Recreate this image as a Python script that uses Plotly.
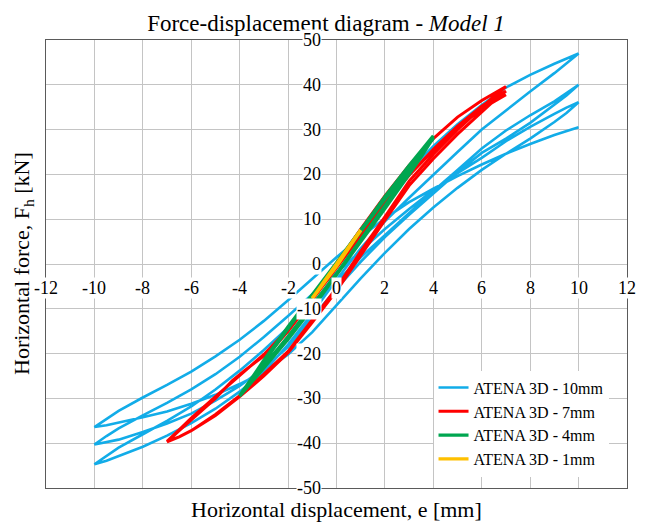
import plotly.graph_objects as go

# ---------------- data ----------------
# ATENA 3D - 10mm (blue): loading, then alternating unload / reload branches
b10_x = [0, 1, 2, 3, 4, 5, 6, 7, 8, 9, 10,
         9.5, 9, 8, 7, 6, 5, 4, 3, 2, 1, 0, -1, -2, -3, -4, -5, -6, -7, -8, -9, -9.5, -10,
         -9.5, -9, -8, -7, -6, -5, -4, -3, -2, -1, 0, 1, 2, 3, 4, 5, 6, 7, 8, 9, 9.5, 10,
         9.5, 9, 8, 7, 6, 5, 4, 3, 2, 1, 0, -1, -2, -3, -4, -5, -6, -7, -8, -9, -9.5, -10,
         -9.5, -9, -8, -7, -6, -5, -4, -3, -2, -1, 0, 1, 2, 3, 4, 5, 6, 7, 8, 9, 9.5, 10,
         9.5, 9, 8, 7, 6, 5, 4, 3, 2, 1, 0, -1, -2, -3, -4, -5, -6, -7, -8, -9, -9.5, -10,
         -9.5, -9, -8, -7, -6, -5, -4, -3, -2, -1, 0, 1, 2, 3, 4, 5, 6, 7, 8, 9, 10]
b10_y = [0, 7.5, 14.5, 20.8, 26.3, 31.2, 35.5, 39.4, 42.2, 44.7, 47,
         44.7, 42.6, 38.5, 34.2, 30, 25, 20, 14.8, 9.5, 3.5, -3.5, -11, -18, -24, -28.5, -32.3, -35.5, -38.3, -40.8, -42.9, -43.9, -44.7,
         -42.8, -41, -38, -35, -31.8, -28, -23.8, -19.2, -14.2, -9.2, -4, 1.5, 6.5, 11.5, 16.3, 21, 25.8, 29.8, 33.2, 36.3, 38.1, 40,
         37.6, 35.5, 31.5, 28, 24.8, 20.5, 15.8, 11, 6, 0.5, -5.5, -12, -18.5, -23.3, -27.2, -30.5, -33.4, -35.6, -37.5, -39.2, -39.8, -40.3,
         -38.4, -36.7, -33.8, -31, -28, -24.6, -20.7, -16.3, -11.6, -6.8, -2, 3, 7.8, 12.3, 16.5, 20.3, 23.7, 27.4, 30.6, 33.5, 34.9, 36.1,
         33.7, 31.7, 28, 24.6, 21, 17, 12.6, 7.8, 2.5, -3.2, -9.2, -15.2, -20.2, -24, -26.8, -29.2, -31.2, -32.9, -34.2, -35.5, -36, -36.4,
         -34.5, -32.8, -29.8, -27, -24, -20.6, -16.9, -12.7, -8.1, -3.3, 1.5, 6, 10.2, 13.8, 16.8, 19.6, 22.2, 24.6, 26.8, 28.8, 30.5]

# ATENA 3D - 7mm (red)
r7_x = [0, 1, 2, 3, 4, 5, 6, 7,
        6.5, 6, 5, 4, 3, 2, 1, 0, -1, -2, -3, -4, -5, -6, -6.5, -7,
        -6.5, -6, -5, -4.3, -3.8, -2.7, -2, -1, 0, 1, 2, 3, 4, 5, 6, 6.5, 7,
        6.5, 6, 5, 4, 3, 2, 1, 0, -1, -2, -3, -4, -5, -6, -6.5, -7,
        -6.5, -6, -5, -4, -3, -2, -1, 0, 1, 2, 3, 4, 5, 6, 6.5, 7]
r7_y = [0, 7.8, 15.2, 22, 28, 32.8, 36.5, 39.6,
        37.4, 35, 30, 24.5, 18.5, 10.5, 2.8, -5.4, -12.5, -19.5, -24.6, -29.4, -33.6, -37.2, -38.6, -39.7,
        -37.2, -34.8, -30, -26, -23.8, -19.3, -15, -8, -0.8, 6.4, 13.4, 19.8, 25.6, 30.8, 35.2, 37, 38.6,
        36.4, 34, 29, 23.5, 17.5, 9.8, 2, -6, -13, -19.8, -25, -29.6, -33.8, -37.2, -38.6, -39.6,
        -37, -34.4, -29.6, -24.8, -20.2, -14.6, -7.6, -0.4, 6.8, 13.6, 19.8, 25.4, 30.4, 34.6, 36.2, 37.8]

# ATENA 3D - 4mm (green)
g4_x = [0, 1, 2, 3, 4,
        3.5, 3, 2, 1, 0, -1, -2, -3, -3.5, -4,
        -3.5, -3, -2, -1, 0, 1, 2, 3, 3.5, 4,
        3.5, 3, 2, 1, 0, -1, -2, -3, -3.5, -4,
        -3.5, -3, -2, -1, 0, 1, 2, 3, 4]
g4_y = [0, 7.5, 15, 22, 28.6,
        24.5, 20.6, 13, 5.4, -2.2, -9.2, -16.2, -22.8, -26.2, -29.4,
        -25.5, -21.5, -14, -7, 0.3, 7.6, 14.8, 21.5, 24.8, 28.2,
        24, 20, 12.4, 5, -2.6, -9.8, -16.8, -23.2, -26.5, -29.5,
        -25.8, -21.8, -14.4, -7.2, 0, 7.3, 14.5, 21.2, 28]

# ATENA 3D - 1mm (yellow)
y1_x = [0, 0.5, 1, 0.5, 0, -0.5, -1, -0.5, 0, 0.5, 1, 0.5, 0, -0.5, -1, -0.5, 0, 0.5, 1]
y1_y = [0, 3.9, 7.6, 3.6, -0.4, -4.1, -7.7, -3.8, 0, 3.8, 7.5, 3.5, -0.5, -4.2, -7.6, -3.9, 0, 3.8, 7.5]

x_ticks = [-12, -10, -8, -6, -4, -2, 0, 2, 4, 6, 8, 10, 12]
y_ticks = [-50, -40, -30, -20, -10, 0, 10, 20, 30, 40, 50]

series = [
    ("ATENA 3D - 10mm", b10_x, b10_y, "#12ACE8", 2.6),
    ("ATENA 3D - 7mm", r7_x, r7_y, "#FF0000", 3.0),
    ("ATENA 3D - 4mm", g4_x, g4_y, "#00A650", 3.4),
    ("ATENA 3D - 1mm", y1_x, y1_y, "#FFC000", 3.4),
]

FONT = "Liberation Serif"
# plot area in pixels
L, R, T, B = 46, 627, 40, 488
W, H = 648, 525


def px(x):
    return (x - L) / (R - L)


def py(y):
    return (B - y) / (B - T)


fig = go.Figure()
for name, xs, ys, col, w in series:
    fig.add_trace(go.Scatter(x=xs, y=ys, mode="lines", name=name,
                             line=dict(color=col, width=w)))

annotations = []
for v in x_ticks:
    annotations.append(dict(x=v, y=0, xref="x", yref="y", text=str(v), showarrow=False,
                            yshift=-24, xanchor="center", yanchor="middle",
                            bgcolor="white", borderpad=0,
                            font=dict(family=FONT, size=18, color="black")))
for v in y_ticks:
    annotations.append(dict(x=0, y=v, xref="x", yref="y", text=str(v), showarrow=False,
                            xshift=-15, xanchor="right", yanchor="middle",
                            bgcolor="white", borderpad=0,
                            font=dict(family=FONT, size=18, color="black")))
annotations.append(dict(x=px(336.5), y=py(509), xref="paper", yref="paper",
                        text="Horizontal displacement, e [mm]", showarrow=False,
                        xanchor="center", yanchor="middle",
                        font=dict(family=FONT, size=22, color="black")))
annotations.append(dict(x=px(23), y=py(264), xref="paper", yref="paper",
                        text="Horizontal force, F<sub>h</sub> [kN]", showarrow=False,
                        textangle=-90, xanchor="center", yanchor="middle",
                        font=dict(family=FONT, size=22, color="black")))

fig.update_layout(
    width=W, height=H,
    margin=dict(l=L, r=W - R, t=T, b=H - B),
    paper_bgcolor="white", plot_bgcolor="white",
    title=dict(text="Force-displacement diagram - <i>Model 1</i>",
               x=326 / W, xanchor="center", y=1 - 22.5 / H, yanchor="middle",
               font=dict(family=FONT, size=23, color="black")),
    xaxis=dict(range=[-12, 12], tickvals=x_ticks, showticklabels=False, ticks="",
               showgrid=True, gridcolor="#C4C4C4", gridwidth=1.4, zeroline=False,
               showline=True, linecolor="#5A5A5A", linewidth=1.4, mirror=True),
    yaxis=dict(range=[-50, 50], tickvals=y_ticks, showticklabels=False, ticks="",
               showgrid=True, gridcolor="#C4C4C4", gridwidth=1.4, zeroline=False,
               showline=True, linecolor="#5A5A5A", linewidth=1.4, mirror=True),
    legend=dict(x=0.667, y=0.262, xanchor="left", yanchor="top",
                bgcolor="white", borderwidth=0,
                font=dict(family=FONT, size=16, color="black")),
    annotations=annotations,
    showlegend=True,
)

fig.write_html("out.html")
